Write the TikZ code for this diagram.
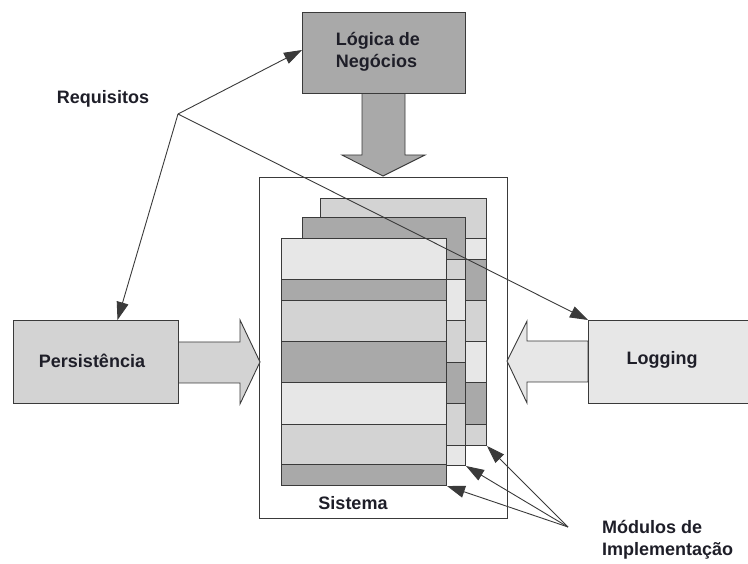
\documentclass[tikz,border=0pt]{standalone}
\usepackage{fontspec}
\setmainfont{Liberation Sans}
\usetikzlibrary{arrows.meta}
\definecolor{gdark}{HTML}{A9A9A9}
\definecolor{gmid}{HTML}{D3D3D3}
\definecolor{glight}{HTML}{E7E7E7}
\definecolor{edge}{HTML}{3A3A3A}
\definecolor{ink}{HTML}{1E1E28}
\tikzset{
  box/.style={draw=edge, line width=1pt, rectangle, inner sep=0pt},
  lbl/.style={font=\bfseries\fontsize{18}{22}\selectfont, text=ink, inner sep=0pt},
  stripe/.style={draw=edge, line width=0.9pt},
  blockarrow/.style={draw=edge, line width=0.9pt, line join=miter},
  conn/.style={draw=edge, line width=0.9pt, -{Triangle[length=18pt,width=12pt]}},
}
% stripes of one page: \pagestripes{x0}{x1}{y0/y1/colour, ...}
\newcommand{\pagestripes}[3]{%
  \foreach \ya/\yb/\c in {#3} {\filldraw[stripe, fill=\c] (#1,\ya) rectangle (#2,\yb);}%
}
\begin{document}
\begin{tikzpicture}[x=1pt, y=-1pt]
\useasboundingbox (0,0) rectangle (748,564);
\clip (0,0) rectangle (748,564);

% the system frame
\node[box, fill=white, minimum width=248pt, minimum height=341pt, anchor=north west] (sistema) at (259,177) {};
\node[lbl] (sistemalbl) at (353,503) {Sistema};

% three stacked module pages, back to front
\pagestripes{320}{486}{198/238/gmid, 238/259/glight, 259/300/gdark, 300/341/gmid, 341/382/glight, 382/424/gdark, 424/445/gmid}
\node[box, minimum width=166pt, minimum height=247pt, anchor=north west] (back) at (320,198) {};
\pagestripes{302}{465}{217/259/gdark, 259/279/gmid, 279/320/glight, 320/362/gmid, 362/403/gdark, 403/445/gmid, 445/465/glight}
\node[box, minimum width=163pt, minimum height=248pt, anchor=north west] (middle) at (302,217) {};
\pagestripes{281}{446}{238/279/glight, 279/300/gdark, 300/341/gmid, 341/382/gdark, 382/424/glight, 424/464/gmid, 464/485/gdark}
\node[box, minimum width=165pt, minimum height=247pt, anchor=north west] (front) at (281,238) {};

% broad arrows feeding the system
\filldraw[blockarrow, fill=gdark] (362,93) -- (405,93) -- (405,155) -- (425,155) -- (383,176) -- (342,155) -- (362,155) -- cycle;
\filldraw[blockarrow, fill=gmid] (178,342) -- (240,342) -- (240,320) -- (260,362) -- (240,404) -- (240,383) -- (178,383) -- cycle;
\filldraw[blockarrow, fill=glight] (588,341) -- (527,341) -- (527,321) -- (507,361) -- (527,403) -- (527,382) -- (588,382) -- cycle;

% requirement boxes
\node[box, fill=gdark, minimum width=163pt, minimum height=81pt, anchor=north west] (logica) at (302,12) {};
\node[lbl, align=left] (logicalbl) at (378,52) {Lógica de\\Negócios};
\node[box, fill=gmid, minimum width=165pt, minimum height=83pt, anchor=north west] (persist) at (13,320) {};
\node[lbl] (persistlbl) at (92,361) {Persistência};
\node[box, fill=glight, minimum width=180pt, minimum height=83pt, anchor=north west] (logging) at (588,320) {};
\node[lbl] (logginglbl) at (662,360) {Logging};

% requirements fan
\node[lbl] (req) at (103,99) {Requisitos};
\coordinate (reqhub) at (178,114);
\draw[conn] (reqhub) -- ([yshift=3pt]logica.west);
\draw[conn] (reqhub) -- ([xshift=21.5pt]persist.north);
\draw[conn] (reqhub) -- (logging.north west);

% implementation modules fan
\node[lbl, align=left, anchor=north west] (mod) at (602,520) {Módulos de\\Implementação};
\coordinate (modhub) at (568,527);
\draw[conn] (modhub) -- (back.south east);
\draw[conn] (modhub) -- (middle.south east);
\draw[conn] (modhub) -- (front.south east);
\end{tikzpicture}
\end{document}
